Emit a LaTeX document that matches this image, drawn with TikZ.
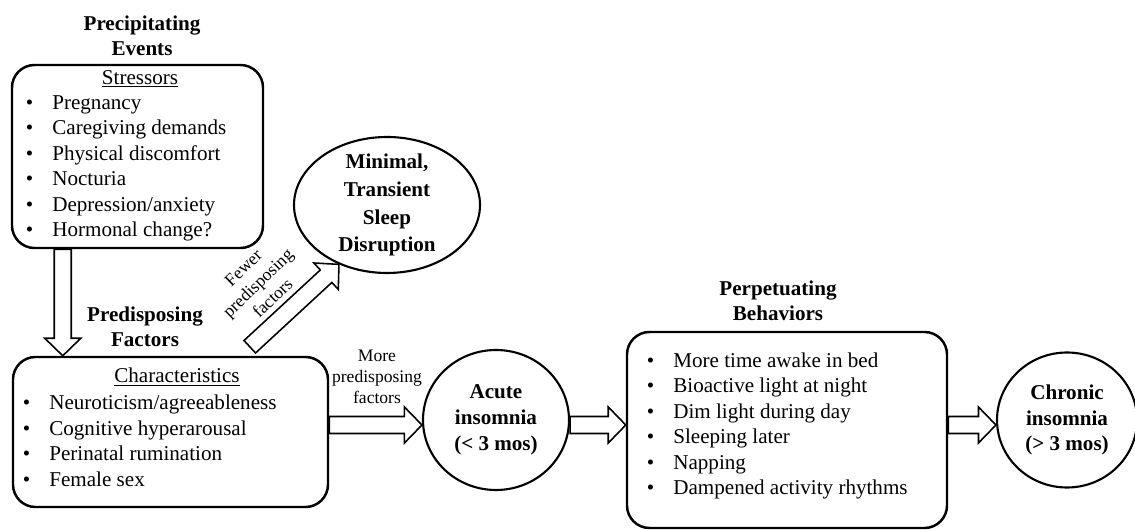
\documentclass[tikz,border=0pt]{standalone}
\usepackage{fontspec}
\setmainfont{Liberation Serif}
\usepackage{tikz}
\usetikzlibrary{
  calc,
  shapes.geometric
}
\newcommand{\itm}{\makebox[0.53cm][l]{\textbullet}}
% hollow block arrow from #1 to #2
\newcommand{\fatarrow}[2]{%
  \coordinate (fa-s) at #1;
  \coordinate (fa-t) at #2;
  \coordinate (fa-c) at ($(fa-t)!0.35cm!(fa-s)$);
  \draw[fat arrow]
    ($(fa-s)!0.17cm!90:(fa-t)$) -- ($(fa-c)!0.17cm!90:(fa-t)$)
    -- ($(fa-c)!0.36cm!90:(fa-t)$) -- (fa-t)
    -- ($(fa-c)!0.36cm!-90:(fa-t)$) -- ($(fa-c)!0.17cm!-90:(fa-t)$)
    -- ($(fa-s)!0.17cm!-90:(fa-t)$) -- cycle;
}
\tikzset{
  list box/.style={
    draw, rectangle, rounded corners=0.45cm,
    line width=1.4pt, inner sep=0pt
  },
  state oval/.style={
    draw, ellipse, line width=1.2pt, inner sep=0pt,
    align=center,
    font=\fontsize{12}{14.7}\selectfont\bfseries
  },
  oval text/.style={
    align=center,
    font=\fontsize{12}{15.9}\selectfont\bfseries
  },
  fat arrow/.style={
    draw=black, line width=0.9pt, line join=miter
  },
  head text/.style={
    align=center,
    font=\fontsize{12}{14.4}\selectfont\bfseries
  },
  item list/.style={
    align=left, anchor=west, inner sep=0pt,
    font=\fontsize{12}{14.5}\selectfont
  },
  side note/.style={
    align=center, inner sep=0pt,
    font=\fontsize{10}{12}\selectfont
  },
}
\begin{document}
\begin{tikzpicture}[font=\fontsize{12}{14.5}\selectfont]

  \useasboundingbox (0,0) rectangle (22.7,10.6);

  % Section titles
  \node[head text] (precip) at (2.84,9.89) {Precipitating\\Events};
  \node[head text] (predisp) at (2.90,4.07) {Predisposing\\Factors};
  \node[head text] (perpet) at (15.56,4.59) {Perpetuating\\Behaviors};

  % Stressors box
  \node[list box, minimum width=5.02cm, minimum height=3.66cm] (stress) at (2.75,7.47) {};
  \node (stresshead) at (2.80,9.02) {\underline{Stressors}};
  \node[item list] (stresslist) at (0.51,7.23)
    {\itm Pregnancy\\ \itm Caregiving demands\\ \itm Physical discomfort\\
     \itm Nocturia\\ \itm Depression/anxiety\\ \itm Hormonal change?};

  % Characteristics box
  \node[list box, minimum width=6.30cm, minimum height=3.00cm] (char) at (3.41,1.96) {};
  \node (charhead) at (3.54,3.06) {\underline{Characteristics}};
  \node[item list] (charlist) at (0.45,1.78)
    {\itm Neuroticism/agreeableness\\ \itm Cognitive hyperarousal\\
     \itm Perinatal rumination\\ \itm Female sex};

  % Behaviors box
  \node[list box, minimum width=6.40cm, minimum height=3.92cm] (perp) at (15.74,2.00) {};
  \node[item list] (perplist) at (12.93,2.08)
    {\itm More time awake in bed\\ \itm Bioactive light at night\\
     \itm Dim light during day\\ \itm Sleeping later\\ \itm Napping\\
     \itm Dampened activity rhythms};

  % Outcomes
  \node[state oval, minimum width=3.72cm, minimum height=2.72cm,
    label={[oval text]center:Minimal,\\Transient\\Sleep\\Disruption}] (minimal) at (7.74,6.50) {};
  \node[state oval, minimum width=2.92cm, minimum height=2.80cm] (acute) at (9.92,2.20)
    {Acute\\insomnia\\(< 3 mos)};
  \node[state oval, minimum width=2.80cm, minimum height=2.70cm] (chronic) at (21.34,2.20)
    {Chronic\\insomnia\\(> 3 mos)};

  % Arrows
  \coordinate (lvl) at (0,2.1);
  \fatarrow{([xshift=1.04cm]stress.south west)}{([xshift=1.02cm]char.north west)}
  \fatarrow{([xshift=4.76cm,yshift=0.18cm]char.north west)}{(minimal.231)}
  \fatarrow{(char.east |- lvl)}{(acute.west |- lvl)}
  \fatarrow{(acute.east |- lvl)}{(perp.west |- lvl)}
  \fatarrow{(perp.east |- lvl)}{(chronic.west |- lvl)}

  % Arrow notes
  \node[side note, rotate=44] (fewer) at (5.16,4.94) {Fewer\\predisposing\\factors};
  \node[side note] (more) at (7.54,3.07) {More\\predisposing\\factors};

\end{tikzpicture}
\end{document}
